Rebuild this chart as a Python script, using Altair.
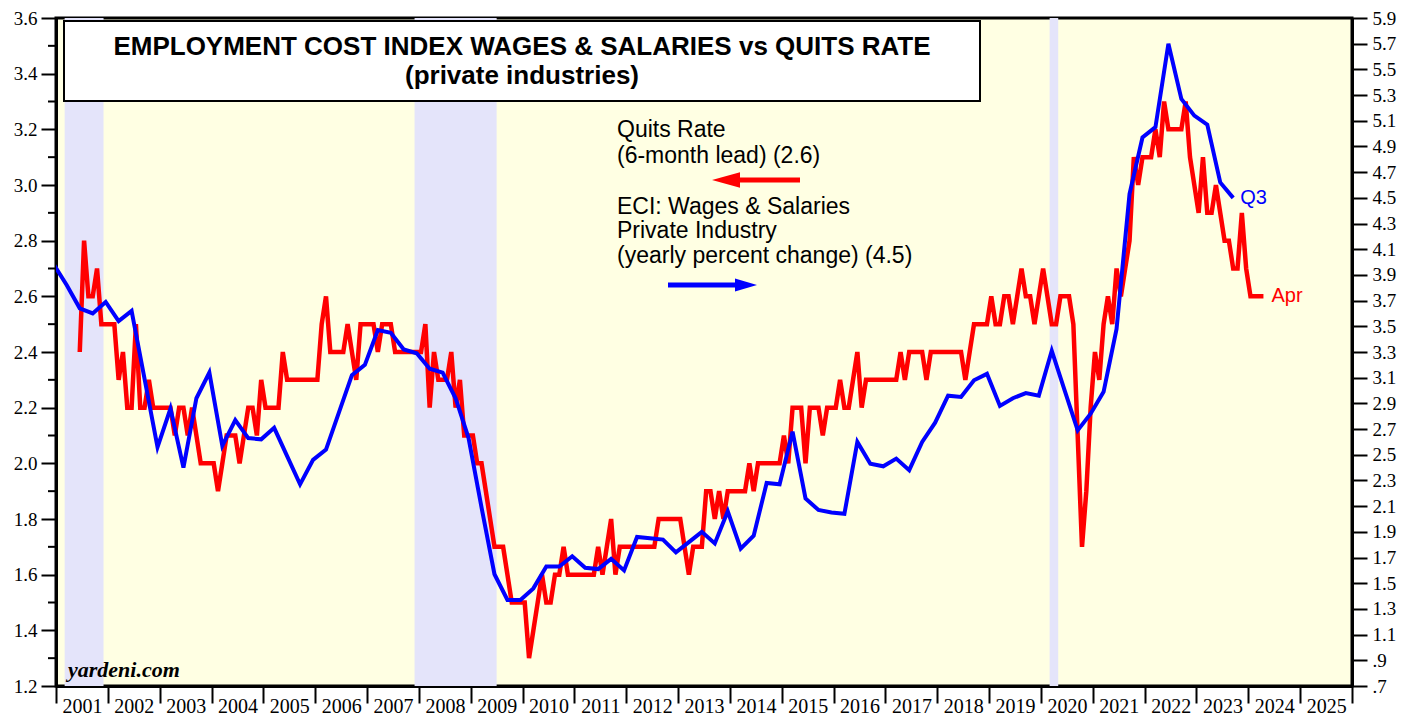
import altair as alt
import pandas as pd

# ---------------- data ----------------
# Quits rate (private industries), monthly, plotted with a 6-month lead; first plotted month June 2001
quits_start_year = 2001
quits_start_month = 6
quits_values = [
    2.4, 2.8, 2.6, 2.6, 2.7, 2.5, 2.5,                                  # 2001 Jun-Dec
    2.5, 2.5, 2.3, 2.4, 2.2, 2.2, 2.5, 2.2, 2.2, 2.3, 2.2, 2.2,         # 2002
    2.2, 2.2, 2.2, 2.1, 2.2, 2.2, 2.1, 2.2, 2.1, 2.0, 2.0, 2.0,         # 2003
    2.0, 1.9, 2.0, 2.1, 2.1, 2.1, 2.0, 2.1, 2.2, 2.2, 2.1, 2.3,         # 2004
    2.2, 2.2, 2.2, 2.2, 2.4, 2.3, 2.3, 2.3, 2.3, 2.3, 2.3, 2.3,         # 2005
    2.3, 2.5, 2.6, 2.4, 2.4, 2.4, 2.4, 2.5, 2.4, 2.3, 2.5, 2.5,         # 2006
    2.5, 2.5, 2.4, 2.5, 2.5, 2.5, 2.4, 2.4, 2.4, 2.4, 2.4, 2.4,         # 2007
    2.4, 2.5, 2.2, 2.4, 2.3, 2.3, 2.3, 2.4, 2.2, 2.3, 2.1, 2.1,         # 2008
    2.1, 2.0, 2.0, 1.9, 1.8, 1.7, 1.7, 1.7, 1.6, 1.5, 1.5, 1.5,         # 2009
    1.5, 1.3, 1.4, 1.5, 1.6, 1.5, 1.5, 1.6, 1.6, 1.7, 1.6, 1.6,         # 2010
    1.6, 1.6, 1.6, 1.6, 1.6, 1.7, 1.6, 1.7, 1.8, 1.6, 1.7, 1.7,         # 2011
    1.7, 1.7, 1.7, 1.7, 1.7, 1.7, 1.7, 1.8, 1.8, 1.8, 1.8, 1.8,         # 2012
    1.8, 1.7, 1.6, 1.7, 1.7, 1.7, 1.9, 1.9, 1.8, 1.9, 1.8, 1.9,         # 2013
    1.9, 1.9, 1.9, 1.9, 2.0, 1.9, 2.0, 2.0, 2.0, 2.0, 2.0, 2.0,         # 2014
    2.1, 2.0, 2.2, 2.2, 2.2, 2.0, 2.2, 2.2, 2.2, 2.1, 2.2, 2.2,         # 2015
    2.2, 2.3, 2.2, 2.2, 2.3, 2.4, 2.2, 2.3, 2.3, 2.3, 2.3, 2.3,         # 2016
    2.3, 2.3, 2.3, 2.4, 2.3, 2.4, 2.4, 2.4, 2.4, 2.3, 2.4, 2.4,         # 2017
    2.4, 2.4, 2.4, 2.4, 2.4, 2.4, 2.3, 2.4, 2.5, 2.5, 2.5, 2.5,         # 2018
    2.6, 2.5, 2.5, 2.6, 2.6, 2.5, 2.6, 2.7, 2.6, 2.6, 2.5, 2.6,         # 2019
    2.7, 2.6, 2.5, 2.5, 2.6, 2.6, 2.6, 2.5, 2.1, 1.7, 1.9, 2.2,         # 2020
    2.4, 2.3, 2.5, 2.6, 2.5, 2.7, 2.6, 2.7, 2.8, 3.1, 3.0, 3.1,         # 2021
    3.1, 3.1, 3.2, 3.1, 3.3, 3.2, 3.2, 3.2, 3.2, 3.3, 3.1, 3.0,         # 2022
    2.9, 3.1, 2.9, 2.9, 3.0, 2.9, 2.8, 2.8, 2.7, 2.7, 2.9, 2.7,         # 2023
    2.6, 2.6, 2.6, 2.6,                                                 # 2024 Jan-Apr
]

# ECI wages & salaries, private industry, yearly % change, quarterly from 2000 Q4
eci_start_year = 2000
eci_start_quarter = 4
eci_values = [
    3.98,
    3.82, 3.64, 3.60, 3.69,   # 2001
    3.54, 3.62, 3.09, 2.56,   # 2002
    2.86, 2.40, 2.94, 3.14,   # 2003
    2.57, 2.77, 2.63, 2.62,   # 2004
    2.71, 2.49, 2.27, 2.46,   # 2005
    2.54, 2.83, 3.12, 3.20,   # 2006
    3.47, 3.45, 3.32, 3.29,   # 2007
    3.17, 3.14, 2.94, 2.63,   # 2008
    2.09, 1.57, 1.37, 1.37,   # 2009
    1.46, 1.63, 1.63, 1.71,   # 2010
    1.62, 1.61, 1.69, 1.60,   # 2011
    1.86, 1.85, 1.84, 1.74,   # 2012
    1.82, 1.90, 1.81, 2.06,   # 2013
    1.77, 1.87, 2.28, 2.27,   # 2014
    2.68, 2.16, 2.07, 2.05,   # 2015
    2.04, 2.60, 2.43, 2.41,   # 2016
    2.47, 2.38, 2.60, 2.75,   # 2017
    2.96, 2.95, 3.08, 3.13,   # 2018
    2.88, 2.94, 2.98, 2.96,   # 2019
    3.31, 3.00, 2.69, 2.82,   # 2020
    2.99, 3.48, 4.53, 4.97,   # 2021
    5.05, 5.70, 5.27, 5.14,   # 2022
    5.07, 4.62, 4.50,         # 2023
]

# recessions (decimal years)
recession_start = [2001.167, 2007.917, 2020.167]
recession_end = [2001.917, 2009.5, 2020.333]

left_ticks = [round(1.2 + 0.2 * i, 1) for i in range(13)]
left_minor = [round(1.3 + 0.2 * i, 1) for i in range(12)]
right_ticks = [round(0.7 + 0.2 * i, 1) for i in range(27)]
year_ticks = list(range(2001, 2027))

# ---------------- tables ----------------
quits_t = [quits_start_year + (quits_start_month - 1 + i + 0.5) / 12 for i in range(len(quits_values))]
quits_df = pd.DataFrame({"t": quits_t, "v": quits_values})

eci_t = []
yy, qq = eci_start_year, eci_start_quarter
for _ in eci_values:
    eci_t.append(yy + (3 * qq - 0.5) / 12)
    qq += 1
    if qq > 4:
        qq = 1
        yy += 1
eci_df = pd.DataFrame({"t": eci_t, "v": eci_values})

rec_df = pd.DataFrame({"s": recession_start, "e": recession_end})
minor_df = pd.DataFrame({"v": left_minor})

# ---------------- style ----------------
SANS = "Liberation Sans"
SERIF = "Liberation Serif"
W, H = 1296, 668
RED = "#FF0000"
BLUE = "#0000FF"
OY = -4  # vertical shift of annotations relative to reference plot top

x_scale = alt.Scale(domain=[2001, 2026], nice=False, zero=False)
x_axis = alt.Axis(
    values=year_ticks,
    labelExpr="datum.value >= 2026 ? '' : toString(datum.value)",
    labelOffset=26, labelFlush=False, labelOverlap=False,
    tickSize=17, tickWidth=2, tickColor="black",
    domainWidth=3, domainColor="black",
    labelFont=SERIF, labelFontSize=20, labelColor="black", labelPadding=-7,
    grid=False, title=None,
)
X = alt.X("t:Q", scale=x_scale, axis=x_axis)

yl = alt.Y(
    "v:Q",
    scale=alt.Scale(domain=[1.2, 3.6], nice=False, zero=False),
    axis=alt.Axis(
        orient="left", values=left_ticks, format=".1f",
        tickSize=15, tickWidth=2, tickColor="black",
        domainWidth=3, domainColor="black",
        labelFont=SERIF, labelFontSize=19, labelColor="black", labelPadding=4,
        grid=False, title=None,
    ),
)
yr = alt.Y(
    "v:Q",
    scale=alt.Scale(domain=[0.7, 5.9], nice=False, zero=False),
    axis=alt.Axis(
        orient="right", values=right_ticks,
        labelExpr="datum.value < 1 ? replace(format(datum.value, '.1f'), '0.', '.') : format(datum.value, '.1f')",
        tickSize=15, tickWidth=2, tickColor="black",
        domainWidth=3, domainColor="black",
        labelFont=SERIF, labelFontSize=19, labelColor="black", labelPadding=5,
        grid=False, title=None,
    ),
)

one = alt.Data(values=[{}])


def label(txt, x, y, size=23, color="black", align="left", weight="normal", style="normal", font=SANS):
    return alt.Chart(one).mark_text(
        align=align, baseline="middle", font=font, fontSize=size,
        fontWeight=weight, fontStyle=style, color=color,
    ).encode(x=alt.value(x), y=alt.value(y + OY), text=alt.value(txt))


# ---------------- marks ----------------
recess = alt.Chart(rec_df).mark_rect(color="#E4E4FA").encode(
    x=X, x2="e:Q", y=alt.value(0), y2=alt.value(H)
).transform_calculate(t="datum.s")

box = alt.Chart(one).mark_rect(fill="white", stroke="black", strokeWidth=2).encode(
    x=alt.value(8), x2=alt.value(924), y=alt.value(7 + OY), y2=alt.value(87 + OY)
)
title1 = label("EMPLOYMENT COST INDEX WAGES & SALARIES vs QUITS RATE", 466, 32.5, size=26, align="center", weight="bold")
title2 = label("(private industries)", 466, 62, size=26, align="center", weight="bold")

lg1 = label("Quits Rate", 561, 116)
lg2 = label("(6-month lead) (2.6)", 561, 142)
lg3 = label("ECI: Wages & Salaries", 561, 193)
lg4 = label("Private Industry", 561, 217)
lg5 = label("(yearly percent change) (4.5)", 561, 242)

red_shaft = alt.Chart(one).mark_rule(color=RED, strokeWidth=5).encode(
    x=alt.value(680), x2=alt.value(744), y=alt.value(166 + OY)
)
red_head = alt.Chart(one).mark_point(
    shape="M -1 0 L 1 -0.55 L 1 0.55 Z", filled=True, color=RED, opacity=1, size=784
).encode(x=alt.value(670), y=alt.value(166 + OY))
blue_shaft = alt.Chart(one).mark_rule(color=BLUE, strokeWidth=5).encode(
    x=alt.value(612), x2=alt.value(684), y=alt.value(271 + OY)
)
blue_head = alt.Chart(one).mark_point(
    shape="M 1 0 L -1 -0.6 L -1 0.6 Z", filled=True, color=BLUE, opacity=1, size=484
).encode(x=alt.value(690), y=alt.value(271 + OY))

yardeni = label("yardeni.com", 12, 656, size=22, weight="bold", style="italic", font=SERIF)

minor = alt.Chart(minor_df).mark_rule(color="black", strokeWidth=2).encode(
    y=yl, x=alt.value(-8), x2=alt.value(0)
)

red_line = alt.Chart(quits_df).mark_line(color=RED, strokeWidth=4.5, strokeJoin="miter", clip=True).encode(x=X, y=yl)
apr = alt.Chart(quits_df.tail(1)).mark_text(
    align="left", baseline="middle", dx=8, font=SANS, fontSize=20, color=RED
).encode(x=X, y=yl, text=alt.value("Apr"))

blue_line = alt.Chart(eci_df).mark_line(color=BLUE, strokeWidth=4, clip=True).encode(x=X, y=yr)
q3 = alt.Chart(eci_df.tail(1)).mark_text(
    align="left", baseline="middle", dx=7, font=SANS, fontSize=20, color=BLUE
).encode(x=X, y=yr, text=alt.value("Q3"))

left = alt.layer(
    recess, box, title1, title2, lg1, lg2, lg3, lg4, lg5,
    red_shaft, red_head, blue_shaft, blue_head, yardeni, minor, red_line, apr,
)
right = alt.layer(blue_line, q3)

chart = (
    alt.layer(left, right)
    .resolve_scale(y="independent")
    .properties(
        width=W, height=H,
        padding={"left": 48, "top": 10, "right": 55, "bottom": 30},
        autosize=alt.AutoSizeParams(type="none"),
        background="white",
    )
    .configure_view(fill="#FFFFE3", stroke="black", strokeWidth=3)
)

chart.save("out.html", embed_options={"renderer": "svg", "actions": False})
